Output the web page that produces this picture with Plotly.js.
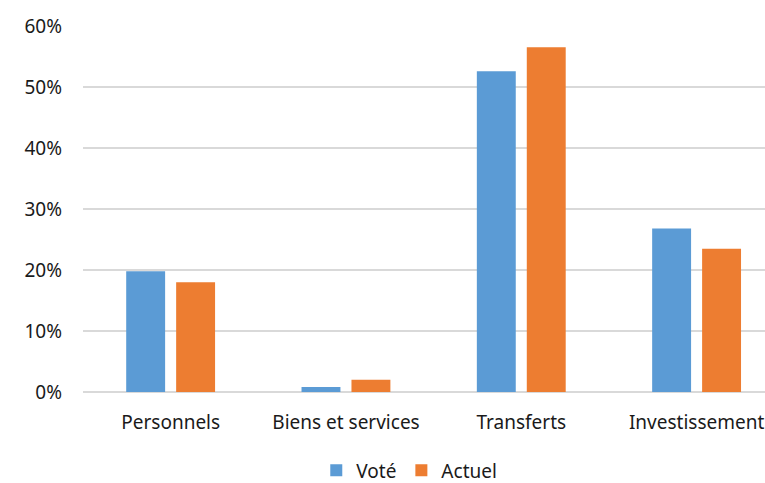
<!DOCTYPE html>
<html>
<head>
<meta charset="utf-8">
<script src="https://cdn.plot.ly/plotly-3.0.1.min.js"></script>
<style>html,body{margin:0;padding:0;background:#fff;}#chart{width:765px;height:483px;}</style>
</head>
<body>
<div id="chart"></div>
<script>
const categories = ["Personnels", "Biens et services", "Transferts", "Investissement"];
const vote = [0.198, 0.008, 0.526, 0.268];
const actuel = [0.180, 0.020, 0.565, 0.235];
const seriesNames = ["Voté", "Actuel"];
const yTicks = [0, 0.1, 0.2, 0.3, 0.4, 0.5, 0.6];
const yTickText = ["0%", "10%", "20%", "30%", "40%", "50%", "60%"];

const font = {family: "Noto Sans, Open Sans, sans-serif", size: 19, color: "#1a1a1a"};

const data = [
  {type: "bar", name: seriesNames[0], x: categories, y: vote, marker: {color: "#5B9BD5"},
   width: 0.222, offset: -0.2536},
  {type: "bar", name: seriesNames[1], x: categories, y: actuel, marker: {color: "#ED7D31"},
   width: 0.222, offset: 0.0313}
];

const layout = {
  width: 765, height: 483,
  margin: {l: 83, r: 0, t: 26, b: 91},
  paper_bgcolor: "#fff", plot_bgcolor: "#fff",
  font: font,
  barmode: "group",
  showlegend: true,
  legend: {orientation: "h", xref: "container", yref: "container", x: 0.535, y: 0.026,
           xanchor: "center", yanchor: "middle", font: font, itemwidth: 30, traceorder: "normal",
           tracegroupgap: 0},
  xaxis: {type: "category", range: [-0.5, 3.39], showgrid: false, zeroline: false,
          showline: false, ticks: "", ticklabelstandoff: 17, tickfont: font, fixedrange: true},
  yaxis: {range: [0, 0.6], tickvals: yTicks, ticktext: yTickText, showgrid: true,
          gridcolor: "#d9d9d9", gridwidth: 1.5, zeroline: true, zerolinecolor: "#d9d9d9", zerolinewidth: 1.5,
          showline: false, ticks: "", ticklabelstandoff: 20, tickfont: font, fixedrange: true}
};

Plotly.newPlot("chart", data, layout, {displayModeBar: false, staticPlot: true});
</script>
</body>
</html>
